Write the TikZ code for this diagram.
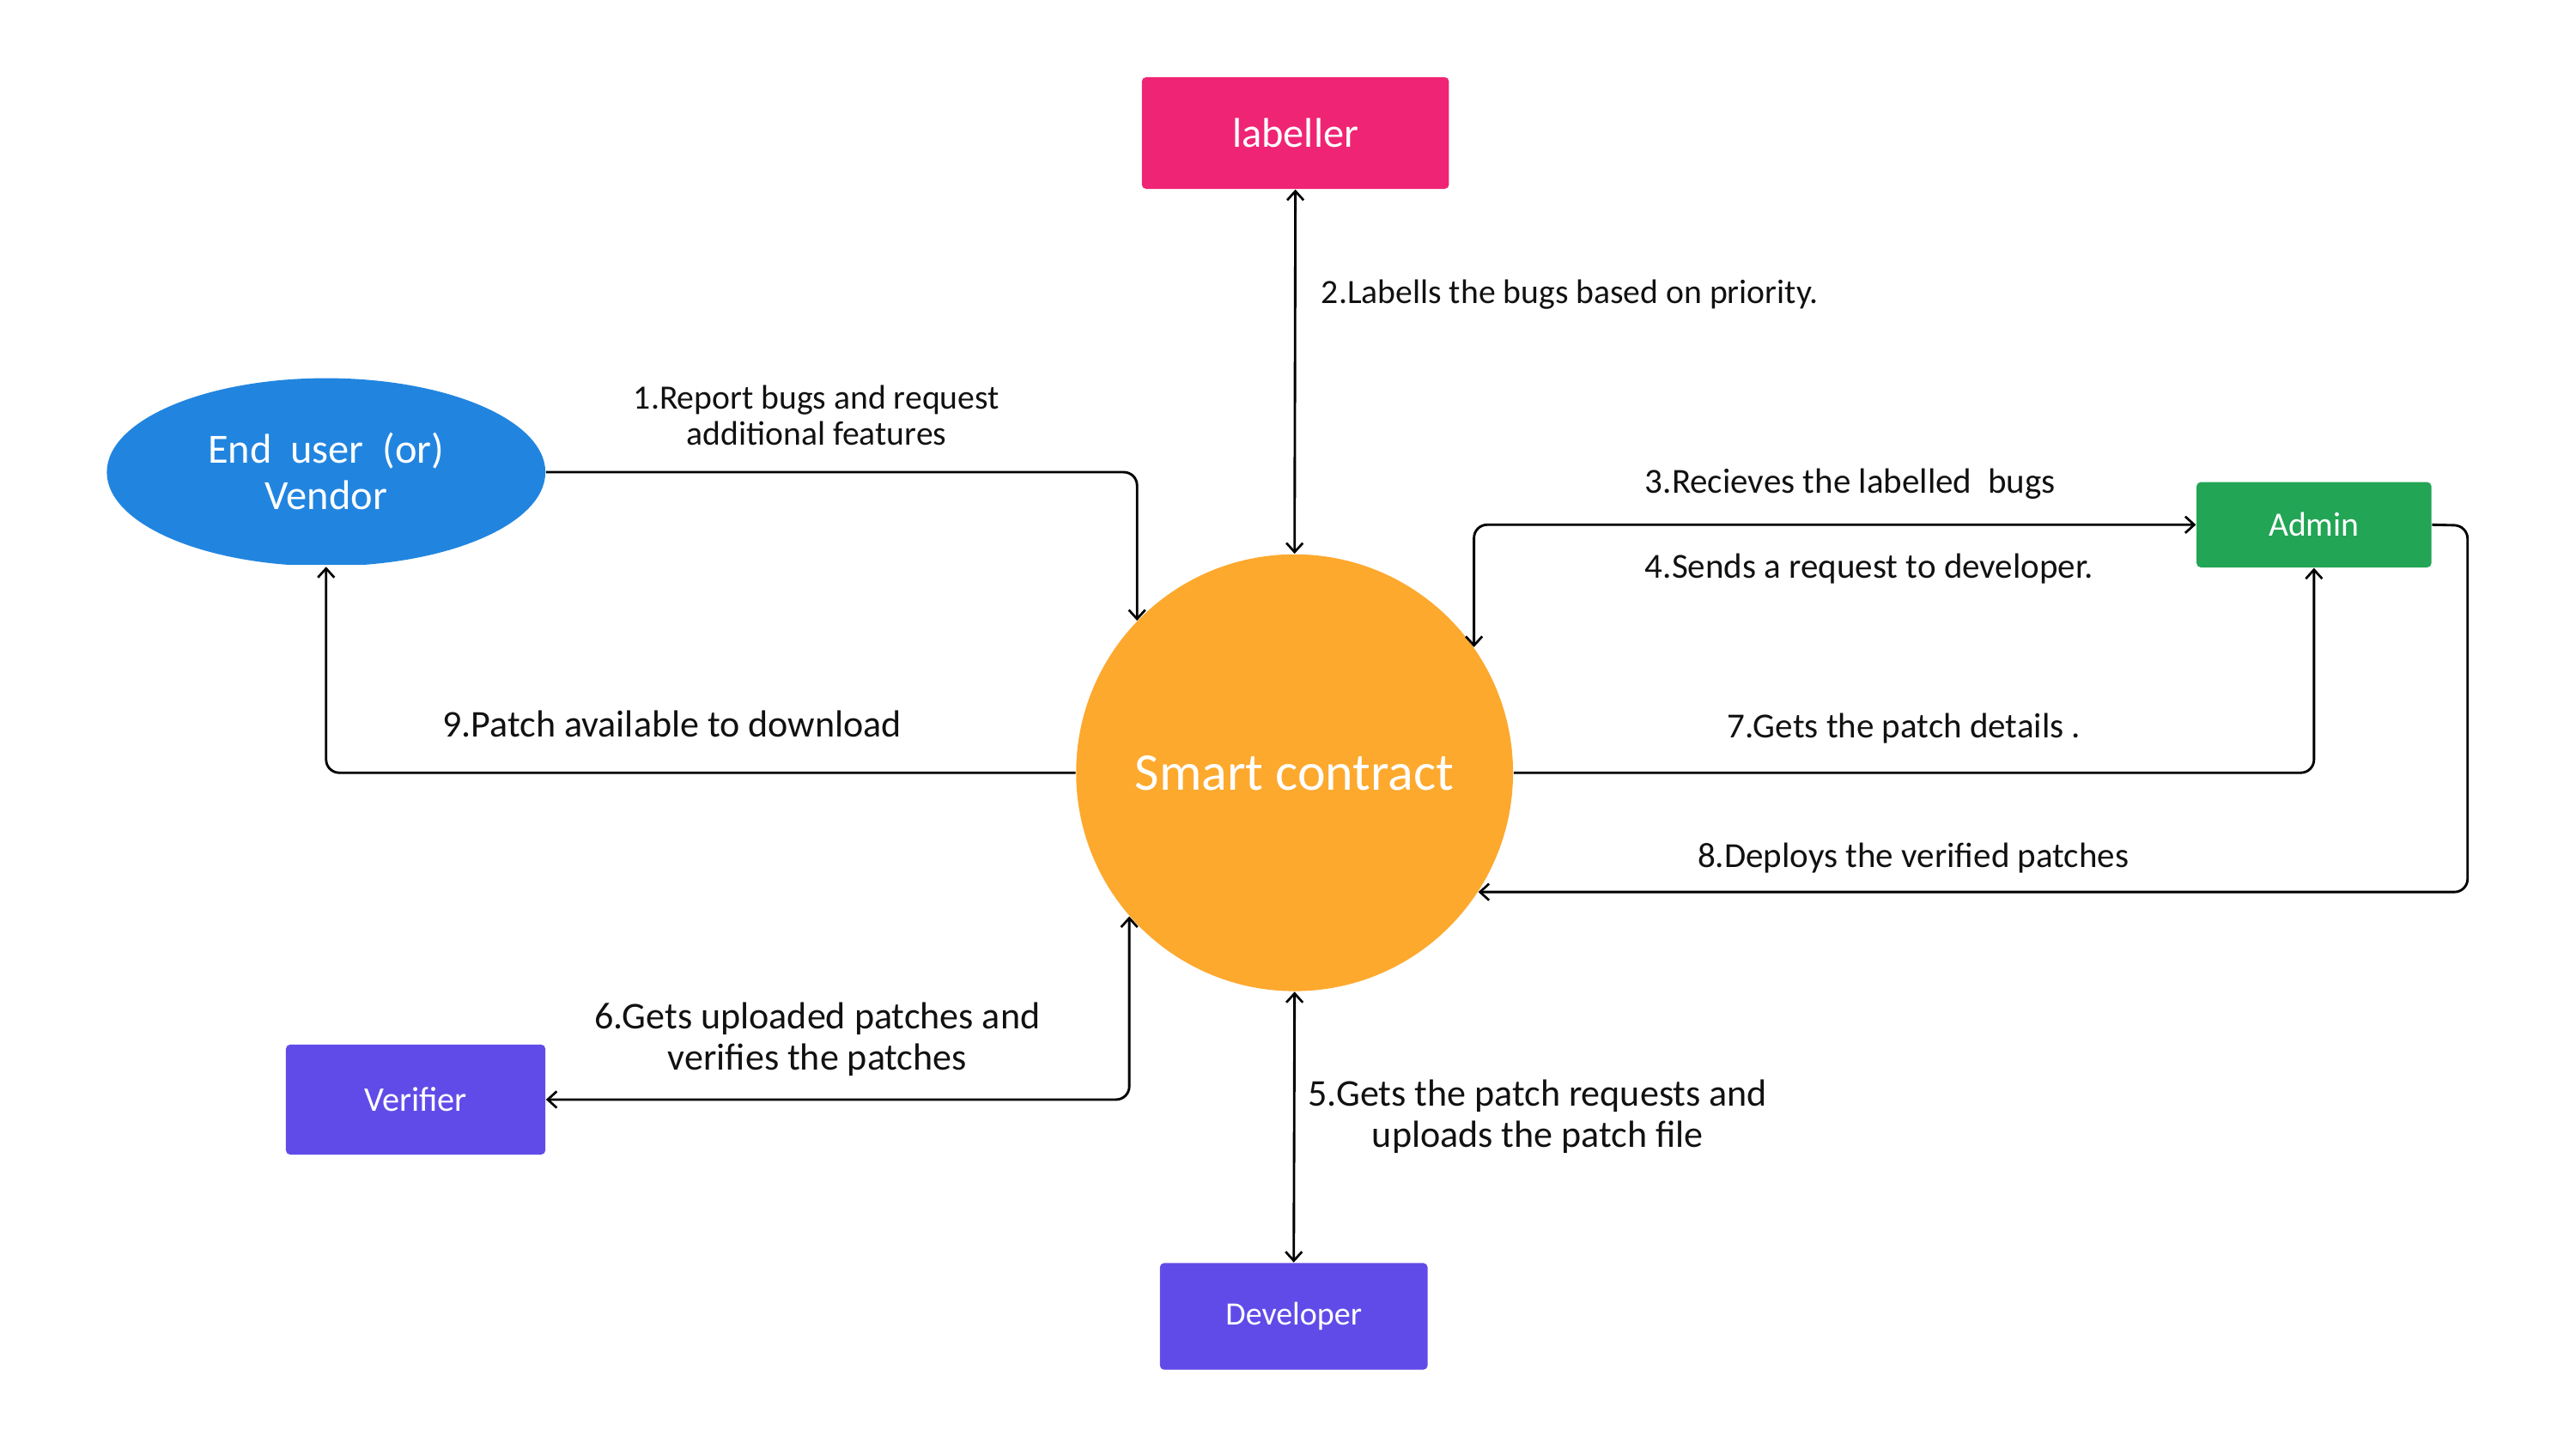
\documentclass[tikz,border=0pt]{standalone}
\usepackage{fontspec}
\setmainfont{Carlito}
\usetikzlibrary{arrows.meta,shapes.geometric}
\definecolor{cpink}{HTML}{EF2474}
\definecolor{cblue}{HTML}{2185E0}
\definecolor{corange}{HTML}{FDA92E}
\definecolor{cgreen}{HTML}{22A555}
\definecolor{cpurple}{HTML}{614BE8}
\definecolor{ctext}{HTML}{111111}
\begin{document}
\begin{tikzpicture}[x=0.02cm,y=-0.02cm,
  box/.style={draw=none,rounded corners=1.5pt,inner sep=0pt,text=white,font=\fontsize{11.8}{13}\selectfont},
  lbl/.style={inner sep=0pt,text=ctext,font=\fontsize{11.8}{12.6}\selectfont,align=center},
  lblm/.style={lbl,font=\fontsize{12.2}{13}\selectfont},
  lblb/.style={lbl,font=\fontsize{13.1}{14.2}\selectfont},
  conn/.style={line width=0.85pt,rounded corners=0.16cm,
    arrows={-Straight Barb[length=1.1mm,width=2.0mm,line width=0.8pt]}},
  conn2/.style={line width=0.85pt,rounded corners=0.16cm,
    arrows={Straight Barb[length=1.1mm,width=2.0mm,line width=0.8pt]-Straight Barb[length=1.1mm,width=2.0mm,line width=0.8pt]}}
]
\useasboundingbox[fill=white] (0,0) rectangle (1568,882);

% nodes
\node[box,fill=cpink,minimum width=3.74cm,minimum height=1.36cm,font=\fontsize{14.4}{16}\selectfont] (lab) at (788.5,81) {labeller};
\begin{scope}
\clip (0,0) rectangle (1568,343.5);
\node[ellipse,fill=cblue,minimum width=5.34cm,minimum height=2.29cm,inner sep=0pt] (eu) at (198.5,287.5) {};
\end{scope}
\node[text=white,align=center,font=\fontsize{14.4}{15.9}\selectfont] (eut) at (198.5,287) {End~~user~~(or)\\Vendor};
\node[circle,fill=corange,minimum size=5.32cm,inner sep=0pt,text=white,font=\fontsize{18.4}{20}\selectfont] (sc) at (788,470.5) {Smart contract};
\node[box,fill=cgreen,minimum width=2.86cm,minimum height=1.04cm] (admin) at (1408.5,319.5) {Admin};
\node[box,fill=cpurple,minimum width=3.16cm,minimum height=1.34cm,font=\fontsize{12}{13}\selectfont] (ver) at (253,669.5) {Verifier};
\node[box,fill=cpurple,minimum width=3.26cm,minimum height=1.30cm,font=\fontsize{11.3}{13}\selectfont] (dev) at (787.5,801.5) {Developer};

% connectors
\draw[conn] (eu.east) -| (sc.136.5);
\draw[conn2] (lab.south) -- (sc.north);
\draw[conn2] (sc.35) |- (admin.west);
\draw[conn] (sc.east) -| (admin.south);
\coordinate (c8) at (1502,320);
\draw[conn] (admin.east) -- (c8) |- (sc.-33);
\draw[conn] (sc.west) -| (eu.south);
\draw[conn2] (sc.221) |- (ver.east);
\draw[conn2] (sc.south) -- (dev.north);

% labels
\node[lbl] (l1) at (497,253) {1.Report bugs and request\\additional features};
\node[lbl,anchor=west] (l2) at (804,179.5) {2.Labells the bugs based on priority.};
\node[lblm,anchor=west] (l3) at (1001,294.5) {3.Recieves the labelled~~bugs};
\node[lblm,anchor=west] (l4) at (1001,346.5) {4.Sends a request to developer.};
\node[lblm,anchor=west] (l7) at (1051,443.5) {7.Gets the patch details .};
\node[lblm,anchor=west] (l8) at (1033,522.5) {8.Deploys the verified patches};
\node[lblb,anchor=west] (l9) at (269,441) {9.Patch available to download};
\node[lblb] (l6) at (497.5,633) {6.Gets uploaded patches and\\verifies the patches};
\node[lblb] (l5) at (936,680) {5.Gets the patch requests and\\uploads the patch file};
\end{tikzpicture}
\end{document}
